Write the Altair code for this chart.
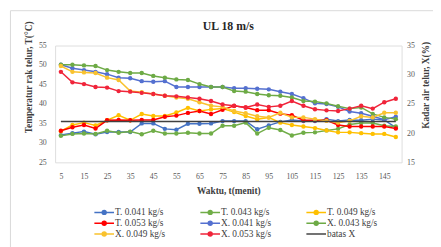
import altair as alt
import pandas as pd

# ---------------- data ----------------
minutes = [5, 10, 15, 20, 25, 30, 35, 40, 45, 50, 55, 60, 65, 70, 75,
           80, 85, 90, 95, 100, 105, 110, 115, 120, 125, 130, 135, 140, 145, 150]
x_labels = [5, 15, 25, 35, 45, 55, 65, 75, 85, 95, 105, 115, 125, 135, 145]

# temperature of egg rack (left axis, degC)
T_041 = [32.0, 32.5, 32.9, 32.2, 32.8, 32.8, 32.8, 35.0, 35.0, 33.6, 33.4, 34.9, 34.9, 35.0, 35.6,
         35.6, 35.6, 33.5, 34.5, 35.4, 35.9, 35.6, 35.6, 36.1, 35.6, 35.9, 35.8, 36.1, 35.9, 33.9]
T_043 = [31.8, 32.3, 32.4, 32.3, 33.1, 32.6, 32.9, 32.2, 33.1, 32.4, 32.4, 32.6, 32.4, 32.4, 34.4,
         34.4, 35.2, 32.4, 33.9, 33.3, 31.9, 32.6, 32.7, 33.2, 33.6, 34.7, 35.1, 35.1, 34.4, 34.2]
T_049 = [33.0, 34.6, 35.2, 34.5, 35.8, 37.1, 35.8, 37.4, 36.9, 36.9, 37.8, 39.0, 38.2, 38.6, 38.8,
         37.9, 36.9, 36.1, 36.5, 35.2, 34.6, 34.2, 33.8, 33.2, 32.7, 32.7, 32.5, 32.3, 32.3, 31.5]
T_053 = [33.1, 34.0, 34.6, 33.7, 35.8, 35.9, 35.8, 35.9, 35.9, 36.7, 37.0, 37.7, 38.2, 37.4, 38.5,
         39.5, 39.1, 38.4, 38.4, 37.5, 37.1, 35.8, 35.8, 35.8, 34.6, 34.2, 34.2, 34.2, 34.2, 33.7]

# moisture content (right axis, %)
X_041 = [31.7, 31.1, 30.8, 30.5, 30.1, 29.5, 29.4, 28.9, 28.8, 28.9, 27.9, 27.9, 27.9, 27.9, 27.9,
         27.7, 27.7, 27.6, 27.5, 27.1, 26.7, 26.0, 25.1, 25.0, 24.5, 23.7, 23.4, 22.9, 22.3, 22.8]
X_043 = [31.7, 31.7, 31.6, 31.5, 30.8, 30.5, 30.3, 30.3, 29.8, 29.5, 29.2, 29.1, 28.4, 27.9, 27.9,
         27.2, 27.1, 26.7, 26.5, 26.4, 26.1, 25.5, 25.4, 25.1, 24.6, 24.2, 24.4, 23.3, 22.7, 22.4]
X_049 = [31.5, 30.5, 30.4, 30.3, 29.5, 29.1, 27.2, 27.0, 26.7, 26.4, 26.1, 25.9, 25.3, 24.7, 24.5,
         23.8, 23.4, 22.9, 22.7, 23.5, 22.7, 22.7, 22.4, 22.1, 21.8, 22.1, 22.9, 22.7, 23.5, 23.5]
X_053 = [30.5, 28.7, 28.4, 27.9, 27.8, 27.2, 27.1, 26.9, 26.7, 26.4, 26.3, 26.1, 25.9, 25.5, 24.9,
         24.7, 24.4, 24.9, 24.5, 24.7, 25.5, 24.7, 24.1, 23.9, 23.8, 24.2, 24.7, 24.2, 25.3, 25.9]

batas_x = 22.0
batas_span = [5, 150]

chart_title = "UL 18 m/s"
t_names = ["T. 0.041 kg/s", "T. 0.043 kg/s", "T. 0.049 kg/s", "T. 0.053 kg/s"]
x_names = ["X. 0.041 kg/s", "X. 0.043 kg/s", "X. 0.049 kg/s", "X. 0.053 kg/s"]
legend_order = ["T. 0.041 kg/s", "T. 0.043 kg/s", "T. 0.049 kg/s",
                "T. 0.053 kg/s", "X. 0.041 kg/s", "X. 0.043 kg/s",
                "X. 0.049 kg/s", "X. 0.053 kg/s", "batas X"]
legend_colors = ["#4472C4", "#70AD47", "#FFC000",
                 "#FF0000", "#5470D0", "#6DAA45",
                 "#F9C22E", "#F0243A", "#404040"]
color_of = dict(zip(legend_order, legend_colors))

# ---------------- tables ----------------
rowsT = []
for name, vals in zip(t_names, [T_041, T_043, T_049, T_053]):
    for m, v in zip(minutes, vals):
        rowsT.append({"t": m, "v": v, "s": name, "c": color_of[name]})
dfT = pd.DataFrame(rowsT)

rowsX = []
for name, vals in zip(x_names, [X_041, X_043, X_049, X_053]):
    for m, v in zip(minutes, vals):
        rowsX.append({"t": m, "v": v, "s": name, "c": color_of[name]})
dfX = pd.DataFrame(rowsX)

dfB = pd.DataFrame({"t": batas_span, "v": [batas_x, batas_x],
                    "s": ["batas X", "batas X"], "c": [color_of["batas X"]] * 2})

FONT = "Liberation Serif"
LAB = "#595959"
TIT = "#404040"

DOT = ("M-2.5,0H2.5"
       "M0.5,0A0.5,0.5,0,1,1,-0.5,0A0.5,0.5,0,1,1,0.5,0"
       "M0.3,0A0.3,0.3,0,1,1,-0.3,0A0.3,0.3,0,1,1,0.3,0"
       "M0.1,0A0.1,0.1,0,1,1,-0.1,0A0.1,0.1,0,1,1,0.1,0")
LINE = "M-2.5,0H2.5"
legend_shapes = [DOT] * 8 + [LINE]

x_enc = alt.X(
    "t:O",
    scale=alt.Scale(type="point", padding=0.5, domain=minutes),
    axis=alt.Axis(values=x_labels, labelAngle=0, ticks=False, tickSize=0, domain=False,
                  labelPadding=10.5, labelFont=FONT, labelFontSize=8, labelColor=LAB,
                  title="Waktu, t(menit)", titleFont=FONT, titleFontSize=9.5,
                  titleFontWeight="bold", titleColor=TIT, titleY=24, titleBaseline="top"),
)

color_direct = alt.Color("c:N", scale=None)

yL = alt.Y(
    "v:Q",
    scale=alt.Scale(domain=[25, 55], nice=False, zero=False),
    axis=alt.Axis(orient="left", values=[25, 30, 35, 40, 45, 50, 55], grid=False, domain=False,
                  ticks=False, tickSize=0, labelPadding=9, labelFont=FONT, labelFontSize=8,
                  labelColor=LAB, title="Temperatur rak telur, T(°C)", titleFont=FONT,
                  titleFontSize=9.5, titleFontWeight="bold", titleColor=TIT, titleAngle=270,
                  titleX=-27, titleY=32, titleAlign="center", titleBaseline="middle"),
)
yR = alt.Y(
    "v:Q",
    scale=alt.Scale(domain=[15, 35], nice=False, zero=False),
    axis=alt.Axis(orient="right", values=[15, 20, 25, 30, 35], grid=False, domain=False,
                  ticks=False, tickSize=0, labelPadding=5, labelFont=FONT, labelFontSize=8,
                  labelColor=LAB, title="Kadar air telur, X(%)", titleFont=FONT,
                  titleFontSize=9.5, titleFontWeight="bold", titleColor=TIT, titleAngle=270,
                  titleX=24, titleY=40, titleAlign="center", titleBaseline="middle"),
)

frame = alt.Chart(alt.Data(values=[{"f": 1}])).mark_rect(
    fillOpacity=0, stroke="#D9D9D9", strokeWidth=1
).encode(x=alt.value(-45.5), x2=alt.value(470), y=alt.value(-35.5), y2=alt.value(300))

title_mark = alt.Chart(alt.Data(values=[{"title": chart_title}])).mark_text(
    font=FONT, fontSize=12, fontWeight="bold", color="#262626",
    align="center", baseline="alphabetic"
).encode(text="title:N", x=alt.value(176.5), y=alt.value(-16))

baseT = alt.Chart(dfT).encode(x=x_enc, y=yL, color=color_direct, detail="s:N")
left = alt.layer(
    frame,
    title_mark,
    baseT.mark_line(strokeWidth=1.5),
    baseT.mark_circle(size=20, opacity=1),
)

baseX = alt.Chart(dfX).encode(x=x_enc, y=yR, color=color_direct, detail="s:N")
leg = alt.Legend(orient="none", legendX=45, legendY=165, columns=3, direction="horizontal",
                 title=None, labelFont=FONT, labelFontSize=9.5, labelColor=TIT, symbolSize=64,
                 symbolStrokeWidth=1.5, labelOffset=6, columnPadding=32, rowPadding=1,
                 gridAlign="all", padding=0)
legend_layer = alt.Chart(dfX).transform_filter("false").mark_point(
    filled=False, opacity=1, strokeWidth=1.5
).encode(
    x=x_enc, y=yR,
    color=alt.Color("s:N", scale=alt.Scale(domain=legend_order, range=legend_colors), legend=leg),
    shape=alt.Shape("s:N", scale=alt.Scale(domain=legend_order, range=legend_shapes), legend=leg),
)
right = alt.layer(
    baseX.mark_line(strokeWidth=1.5),
    baseX.mark_circle(size=20, opacity=1),
    alt.Chart(dfB).mark_line(strokeWidth=1.5).encode(x=x_enc, y=yR, color=color_direct),
    legend_layer,
)

chart = alt.layer(left, right).resolve_scale(y="independent").properties(
    width=353, height=119,
    autosize=alt.AutoSizeParams(type="none"),
    padding={"left": 48, "top": 36, "right": 32, "bottom": 84},
).configure_view(stroke=None).configure(background="white")

chart.save("out.html", embed_options={"renderer": "svg", "actions": False})
